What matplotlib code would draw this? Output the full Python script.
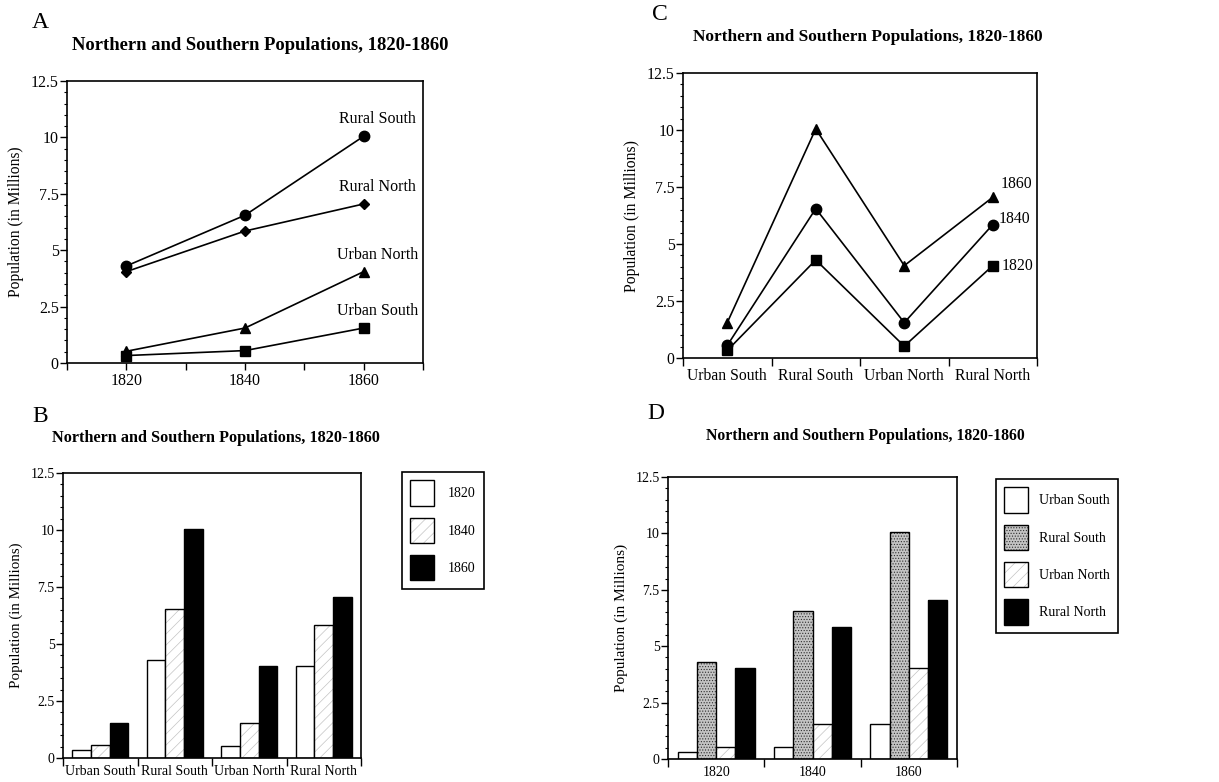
import matplotlib
matplotlib.use("Agg")
import numpy as np
import matplotlib.pyplot as plt
from matplotlib.patches import Patch
from matplotlib.ticker import MultipleLocator, FuncFormatter

plt.rcParams['font.family'] = ['Liberation Serif', 'DejaVu Serif']
plt.rcParams['hatch.linewidth'] = 0.5

# data (millions)
years = [1820, 1840, 1860]
regions = ['Urban South', 'Rural South', 'Urban North', 'Rural North']
urban_south = [0.33, 0.55, 1.55]
rural_south = [4.3, 6.55, 10.05]
urban_north = [0.52, 1.55, 4.05]
rural_north = [4.05, 5.85, 7.05]

TITLE = 'Northern and Southern Populations, 1820-1860'
W, H = 1219, 782

# fill styles: (facecolor, hatch, hatch colour)
PLAIN = ('white', None, 'white')
LIGHT = ('white', '///', '#c4c4c4')
STIPPLE = ('#c4c4c4', '......', '#303030')
SOLID = ('black', None, 'black')


def px_axes(fig, left, top, right, bottom):
    return fig.add_axes([left / W, 1 - bottom / H, (right - left) / W, (bottom - top) / H])


def style_y(ax, fs, fs_label):
    ax.set_ylim(0, 12.5)
    ax.yaxis.set_major_locator(MultipleLocator(2.5))
    ax.yaxis.set_minor_locator(MultipleLocator(0.5))
    ax.yaxis.set_major_formatter(FuncFormatter(lambda v, p: '%g' % v))
    ax.tick_params(axis='y', which='major', length=5, width=1, labelsize=fs, pad=1)
    ax.tick_params(axis='y', which='minor', length=2.5, width=0.8)
    ax.set_ylabel('Population (in Millions)', fontsize=fs_label, labelpad=5)
    for s in ax.spines.values():
        s.set_linewidth(1.2)


def style_cat(ax, labels, fs, pad):
    n = len(labels)
    ax.set_xlim(-0.5, n - 0.5)
    ax.set_xticks(range(n))
    ax.set_xticklabels(labels)
    ax.set_xticks(np.arange(-0.5, n), minor=True)
    ax.tick_params(axis='x', which='major', length=0, labelsize=fs, pad=pad)
    ax.tick_params(axis='x', which='minor', length=6, width=1)


def bars(ax, x, h, w, style):
    fc, hatch, hc = style
    ax.bar(x, h, w, color=fc, hatch=hatch, edgecolor=hc, linewidth=0)
    ax.bar(x, h, w, fill=False, edgecolor='black', linewidth=1)


def handle(style):
    fc, hatch, hc = style
    return (Patch(facecolor=fc, hatch=hatch, edgecolor=hc, linewidth=0),
            Patch(fill=False, edgecolor='black', linewidth=1))


def box_legend(fig, styles, labels, left, top, textpad=0.86):
    leg = fig.legend([handle(s) for s in styles], labels, loc='upper left',
                     bbox_to_anchor=(left / W, 1 - top / H), borderaxespad=0,
                     fancybox=False, edgecolor='black', framealpha=1, fontsize=10,
                     handlelength=1.72, handleheight=2.47, labelspacing=0.83,
                     borderpad=0.6, handletextpad=textpad)
    leg.get_frame().set_linewidth(1.2)


fig = plt.figure(figsize=(W / 100, H / 100), dpi=100)

# ---- A: lines by region over the years
ax = px_axes(fig, 67, 81, 423, 363)
series = [(rural_south, 'o', 7.5), (rural_north, 'D', 5.5),
          (urban_north, '^', 7.5), (urban_south, 's', 7)]
names = ['Rural South', 'Rural North', 'Urban North', 'Urban South']
for (vals, m, ms), name in zip(series, names):
    ax.plot(years, vals, color='black', lw=1.2, marker=m, ms=ms)
    ax.annotate(name, (years[-1], vals[-1]), xytext=(14, 17), textcoords='offset pixels',
                ha='center', va='center', fontsize=11.5)
ax.set_xlim(1810, 1870)
ax.set_xticks(years)
ax.set_xticks([1810, 1830, 1850, 1870], minor=True)
ax.tick_params(axis='x', which='both', length=5, width=1, labelsize=11.5, pad=2)
style_y(ax, 11.5, 11.2)
fig.text(32 / W, 1 - 22 / H, 'A', fontsize=17, va='center')
fig.text(260 / W, 1 - 45 / H, TITLE, fontsize=13.4, weight='bold', ha='center', va='center')

# ---- B: grouped bars, regions on x, one bar per year
ax = px_axes(fig, 63, 473, 361, 758)
x = np.arange(len(regions))
by_year = np.array([urban_south, rural_south, urban_north, rural_north]).T
for i, st in enumerate([PLAIN, LIGHT, SOLID]):
    bars(ax, x + (i - 1) * 0.25, by_year[i], 0.25, st)
style_cat(ax, regions, 10, 5)
style_y(ax, 10, 10.8)
box_legend(fig, [PLAIN, LIGHT, SOLID], [str(y) for y in years], 402, 472, textpad=1.0)
fig.text(32 / W, 1 - 417 / H, 'B', fontsize=17, va='center')
fig.text(216 / W, 1 - 438 / H, TITLE, fontsize=11.7, weight='bold', ha='center', va='center')

# ---- C: lines by year across regions
ax = px_axes(fig, 683, 73, 1037, 358)
offs = [(9, 0), (6, 6), (8, 13)]
for i, (m, ms) in enumerate([('s', 7), ('o', 7.5), ('^', 7.5)]):
    ax.plot(x, by_year[i], color='black', lw=1.2, marker=m, ms=ms)
    ax.annotate(str(years[i]), (x[-1], by_year[i][-1]), xytext=offs[i],
                textcoords='offset pixels', ha='left', va='center', fontsize=11.3)
style_cat(ax, regions, 11.3, 7)
style_y(ax, 11.3, 11.3)
fig.text(652 / W, 1 - 14 / H, 'C', fontsize=17, va='center')
fig.text(868 / W, 1 - 37 / H, TITLE, fontsize=12.4, weight='bold', ha='center', va='center')

# ---- D: grouped bars, years on x, one bar per region
ax = px_axes(fig, 668, 477, 957, 759)
xd = np.arange(len(years))
for i, (vals, st) in enumerate(zip([urban_south, rural_south, urban_north, rural_north],
                                   [PLAIN, STIPPLE, LIGHT, SOLID])):
    bars(ax, xd + (i - 1.5) * 0.2, vals, 0.2, st)
style_cat(ax, [str(y) for y in years], 10, 5)
style_y(ax, 10, 11)
box_legend(fig, [PLAIN, STIPPLE, LIGHT, SOLID], regions, 996, 479, textpad=0.75)
fig.text(647 / W, 1 - 413 / H, 'D', fontsize=17, va='center')
fig.text(865 / W, 1 - 436 / H, TITLE, fontsize=11.3, weight='bold', ha='center', va='center')

fig.savefig('out.png', dpi=100)
